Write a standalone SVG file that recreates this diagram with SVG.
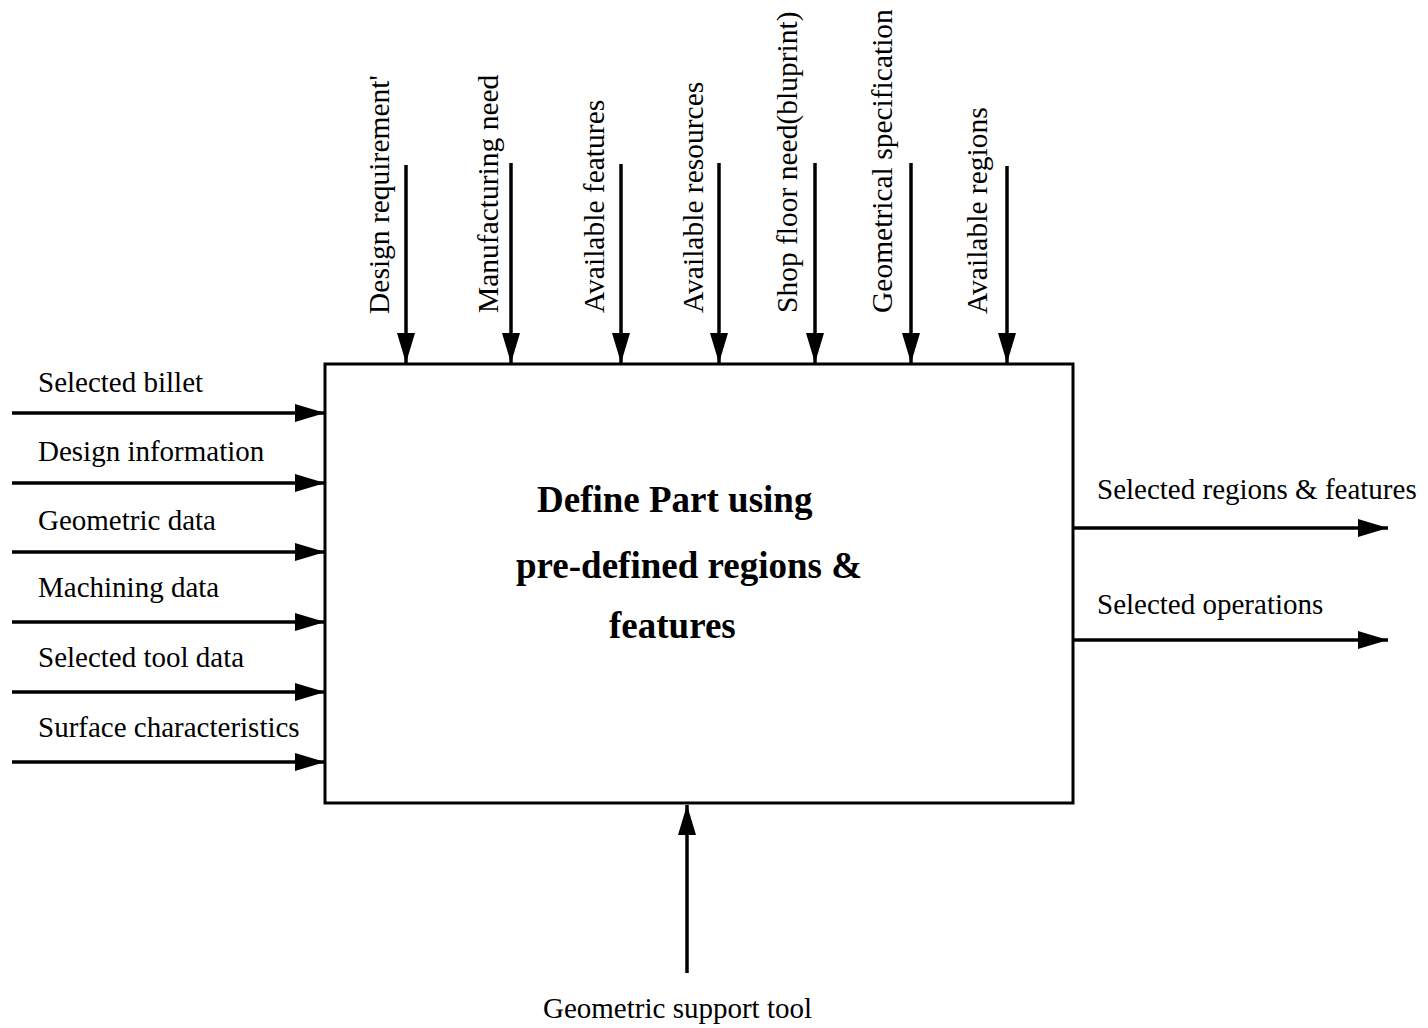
<svg xmlns="http://www.w3.org/2000/svg" width="1428" height="1028" viewBox="0 0 1428 1028">
  <style>
    .lbl { font-family: "Liberation Serif", "Times New Roman", serif; font-size: 29px; fill: #000; }
    .vlbl { font-family: "Liberation Serif", "Times New Roman", serif; font-size: 29.5px; fill: #000; }
    .title { font-family: "Liberation Serif", "Times New Roman", serif; font-size: 37px; font-weight: bold; fill: #000; }
    .box { fill: #fff; stroke: #000; stroke-width: 3; }
    .flow { stroke: #000; stroke-width: 3.5; fill: none; marker-end: url(#head); }
  </style>
  <defs>
    <marker id="head" markerUnits="userSpaceOnUse" markerWidth="30" markerHeight="18" refX="30" refY="9" orient="auto">
      <path d="M0,0 L30,9 L0,18 Z" fill="#000"/>
    </marker>
  </defs>
  <rect width="1428" height="1028" fill="#fff"/>

  <!-- activity box -->
  <g id="activity">
    <rect class="box" x="325" y="364" width="748" height="439"/>
    <text class="title" x="537" y="512">Define Part using</text>
    <text class="title" x="516" y="578">pre-defined regions &amp;</text>
    <text class="title" x="609" y="638">features</text>
  </g>

  <!-- connectors -->
  <g id="connectors">
    <!-- controls (top) -->
    <line class="flow" x1="406" y1="165" x2="406" y2="363"/>
    <line class="flow" x1="511" y1="163" x2="511" y2="363"/>
    <line class="flow" x1="621" y1="164" x2="621" y2="363"/>
    <line class="flow" x1="719" y1="163" x2="719" y2="363"/>
    <line class="flow" x1="815" y1="163" x2="815" y2="363"/>
    <line class="flow" x1="911" y1="163" x2="911" y2="363"/>
    <line class="flow" x1="1007" y1="166" x2="1007" y2="363"/>
    <!-- inputs (left) -->
    <line class="flow" x1="12" y1="413" x2="325" y2="413"/>
    <line class="flow" x1="12" y1="483" x2="325" y2="483"/>
    <line class="flow" x1="12" y1="552" x2="325" y2="552"/>
    <line class="flow" x1="12" y1="622" x2="325" y2="622"/>
    <line class="flow" x1="12" y1="692" x2="325" y2="692"/>
    <line class="flow" x1="12" y1="762" x2="325" y2="762"/>
    <!-- outputs (right) -->
    <line class="flow" x1="1073" y1="528" x2="1388" y2="528"/>
    <line class="flow" x1="1073" y1="640" x2="1388" y2="640"/>
    <!-- mechanism (bottom) -->
    <line class="flow" x1="687" y1="973" x2="687" y2="805"/>
  </g>

  <!-- control labels -->
  <g id="controls">
    <text class="vlbl" transform="translate(389,314) rotate(-90)">Design requirement'</text>
    <text class="vlbl" transform="translate(498,313) rotate(-90)">Manufacturing need</text>
    <text class="vlbl" transform="translate(604,313) rotate(-90)">Available features</text>
    <text class="vlbl" transform="translate(703,313) rotate(-90)">Available resources</text>
    <text class="vlbl" transform="translate(797,313) rotate(-90)">Shop floor need(bluprint)</text>
    <text class="vlbl" transform="translate(892,313) rotate(-90)">Geometrical specification</text>
    <text class="vlbl" transform="translate(987,314) rotate(-90)">Available regions</text>
  </g>

  <!-- input labels -->
  <g id="inputs">
    <text class="lbl" x="38" y="392">Selected billet</text>
    <text class="lbl" x="38" y="461">Design information</text>
    <text class="lbl" x="38" y="530">Geometric data</text>
    <text class="lbl" x="38" y="597">Machining data</text>
    <text class="lbl" x="38" y="667">Selected tool data</text>
    <text class="lbl" x="38" y="737">Surface characteristics</text>
  </g>

  <!-- output labels -->
  <g id="outputs">
    <text class="lbl" x="1097" y="499">Selected regions &amp; features</text>
    <text class="lbl" x="1097" y="614">Selected operations</text>
  </g>

  <!-- mechanism label -->
  <g id="mechanism">
    <text class="lbl" x="543" y="1018">Geometric support tool</text>
  </g>
</svg>
